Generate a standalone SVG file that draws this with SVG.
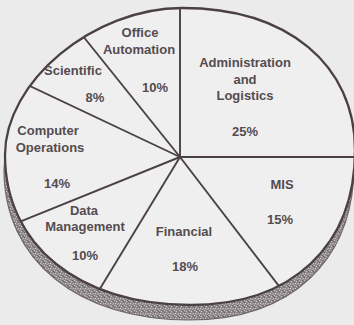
<svg xmlns="http://www.w3.org/2000/svg" width="354" height="325" viewBox="0 0 354 325">
  <style>
    .lbl { font-family: "Liberation Sans", Arial, sans-serif; font-size: 13px; font-weight: bold; fill: #544c4f; text-anchor: middle; }
    .edge { fill: none; stroke: #4b4145; stroke-width: 1.9; }
  </style>
  <defs>
    <path id="pieShape" d="M 182 8 C 288 8 355 65 355 150 C 355 246 292 305 190 305 C 79 305 5 245 5 155 C 5 81.5 93.5 8 182 8 Z"/>
    <clipPath id="pieClip"><use href="#pieShape"/></clipPath>
    <pattern id="speckle" width="5" height="5" patternUnits="userSpaceOnUse">
      <rect width="5" height="5" fill="#908a8c"/>
      <rect x="0" y="0" width="1" height="1" fill="#c4c0c1"/>
      <rect x="2" y="1" width="1" height="1" fill="#cdc9ca"/>
      <rect x="4" y="3" width="1" height="1" fill="#bcb7b9"/>
      <rect x="1" y="3" width="1" height="1" fill="#d3cfd0"/>
      <rect x="3" y="4" width="1" height="1" fill="#b2adaf"/>
      <rect x="3" y="0" width="1" height="1" fill="#676062"/>
      <rect x="0" y="2" width="1" height="1" fill="#6b6467"/>
      <rect x="4" y="1" width="1" height="1" fill="#736b6e"/>
    </pattern>
  </defs>
  <rect width="354" height="325" fill="#ecebeb"/>

  <g id="shadow">
    <use href="#pieShape" transform="translate(-1,15)" fill="url(#speckle)" stroke="#6e676a" stroke-width="1.2"/>
  </g>

  <g id="pie">
    <use href="#pieShape" fill="#f0efef" stroke="#4b4145" stroke-width="2.3"/>
  </g>

  <g id="connectors" clip-path="url(#pieClip)">
    <line class="edge" x1="180" y1="157" x2="180" y2="0"/>
    <line class="edge" x1="180" y1="157" x2="362" y2="157"/>
    <line class="edge" x1="180" y1="157" x2="295" y2="307"/>
    <line class="edge" x1="180" y1="157" x2="84" y2="315"/>
    <line class="edge" x1="180" y1="157" x2="-8" y2="233"/>
    <line class="edge" x1="180" y1="157" x2="-2" y2="71"/>
    <line class="edge" x1="180" y1="157" x2="62" y2="10"/>
  </g>

  <g id="admin">
    <text class="lbl" x="245" y="67">Administration</text>
    <text class="lbl" x="245" y="84">and</text>
    <text class="lbl" x="245" y="100">Logistics</text>
    <text class="lbl" x="245" y="136">25%</text>
  </g>
  <g id="mis">
    <text class="lbl" x="282" y="189">MIS</text>
    <text class="lbl" x="280" y="224">15%</text>
  </g>
  <g id="financial">
    <text class="lbl" x="184" y="236">Financial</text>
    <text class="lbl" x="185" y="271">18%</text>
  </g>
  <g id="datamgmt">
    <text class="lbl" x="84" y="215">Data</text>
    <text class="lbl" x="85" y="231">Management</text>
    <text class="lbl" x="85" y="260">10%</text>
  </g>
  <g id="compops">
    <text class="lbl" x="48" y="135">Computer</text>
    <text class="lbl" x="50" y="152">Operations</text>
    <text class="lbl" x="57" y="188">14%</text>
  </g>
  <g id="scientific">
    <text class="lbl" x="73" y="75">Scientific</text>
    <text class="lbl" x="95" y="102">8%</text>
  </g>
  <g id="office">
    <text class="lbl" x="140" y="37">Office</text>
    <text class="lbl" x="139" y="54">Automation</text>
    <text class="lbl" x="155" y="92">10%</text>
  </g>
</svg>
